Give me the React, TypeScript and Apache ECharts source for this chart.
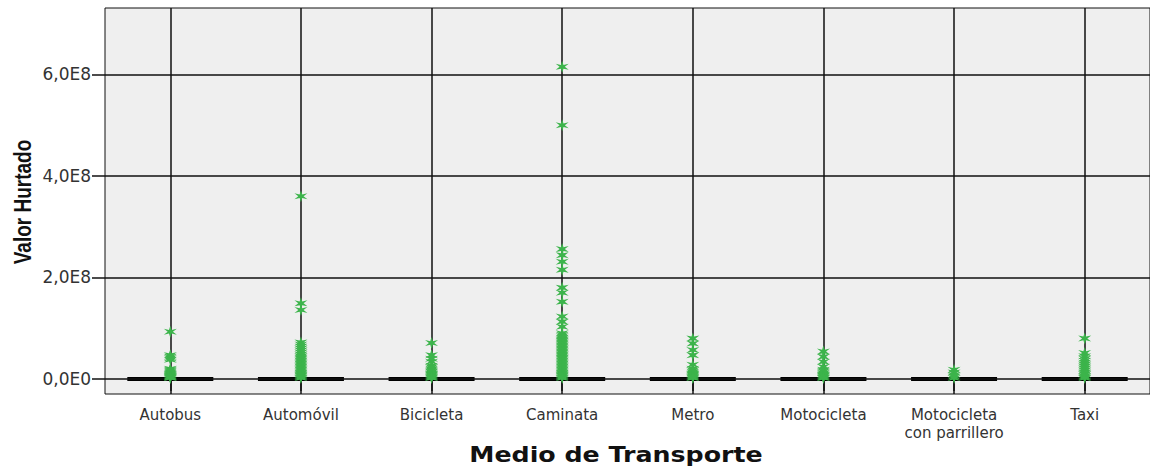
import React, { useEffect, useRef } from "react";
import * as echarts from "echarts";

const categories = [
  "Autobus",
  "Automóvil",
  "Bicicleta",
  "Caminata",
  "Metro",
  "Motocicleta",
  "Motocicleta\ncon parrillero",
  "Taxi",
];

// box summaries [min, Q1, median, Q3, max] — all collapsed at 0
const boxAutobus = [0, 0, 0, 0, 0];
const boxAutomovil = [0, 0, 0, 0, 0];
const boxBicicleta = [0, 0, 0, 0, 0];
const boxCaminata = [0, 0, 0, 0, 0];
const boxMetro = [0, 0, 0, 0, 0];
const boxMotocicleta = [0, 0, 0, 0, 0];
const boxMotoParrillero = [0, 0, 0, 0, 0];
const boxTaxi = [0, 0, 0, 0, 0];

// extreme values (asterisks)
const outAutobus = [93e6, 47e6, 44e6, 41e6, 38e6, 20e6, 18e6, 16e6, 14e6, 12e6, 10e6, 8e6, 6e6, 5e6, 4e6, 3e6, 2e6];
const outAutomovil = [360e6, 149e6, 136e6, 72e6, 68e6, 64e6, 60e6, 56e6, 52e6, 48e6, 45e6, 42e6, 39e6, 36e6, 33e6, 30e6, 27e6, 24e6, 21e6, 18e6, 15e6, 12e6, 10e6, 8e6, 6e6, 4e6, 2e6];
const outBicicleta = [71e6, 47e6, 40e6, 34e6, 26e6, 23e6, 20e6, 17e6, 14e6, 11e6, 9e6, 7e6, 5e6, 3e6, 2e6];
const outCaminata = [615e6, 500e6, 256e6, 244e6, 231e6, 215e6, 180e6, 170e6, 152e6, 123e6, 113e6, 103e6, 90e6, 87e6, 84e6, 81e6, 78e6, 75e6, 72e6, 69e6, 66e6, 63e6, 60e6, 57e6, 54e6, 51e6, 48e6, 45e6, 42e6, 39e6, 36e6, 33e6, 30e6, 27e6, 24e6, 21e6, 18e6, 15e6, 12e6, 10e6, 8e6, 6e6, 4e6, 2e6];
const outMetro = [80e6, 70e6, 57e6, 47e6, 28e6, 20e6, 17e6, 14e6, 11e6, 9e6, 7e6, 5e6, 3e6, 2e6];
const outMotocicleta = [54e6, 44e6, 34e6, 24e6, 18e6, 15e6, 12e6, 9e6, 7e6, 5e6, 3e6, 2e6];
const outMotoParrillero = [18e6, 13e6, 8e6, 5e6, 2e6];
const outTaxi = [80e6, 51e6, 45e6, 40e6, 36e6, 32e6, 28e6, 24e6, 20e6, 16e6, 12e6, 9e6, 6e6, 4e6, 2e6];

const yTicks = [0, 2e8, 4e8, 6e8];
const yTickLabels = ["0,0E0", "2,0E8", "4,0E8", "6,0E8"];
const Y_MIN = -2.96e7;
const Y_MAX = 7.31e8;

const ASTERISK =
  "path://M10 0 L11.75 6.97 L18.66 5 L13.5 10 L18.66 15 L11.75 13.03 L10 20 L8.25 13.03 L1.34 15 L6.5 10 L1.34 5 L8.25 6.97 Z";

export default function App() {
  const ref = useRef<HTMLDivElement>(null);
  useEffect(() => {
    document.body.style.margin = "0";
    const chart = echarts.init(ref.current!, null, { renderer: "svg" });
    const boxes = [boxAutobus, boxAutomovil, boxBicicleta, boxCaminata, boxMetro, boxMotocicleta, boxMotoParrillero, boxTaxi];
    const outs = [outAutobus, outAutomovil, outBicicleta, outCaminata, outMetro, outMotocicleta, outMotoParrillero, outTaxi];
    const scatterData: [number, number][] = [];
    outs.forEach((arr, i) => arr.forEach((v) => scatterData.push([i, v])));

    chart.setOption({
      animation: false,
      backgroundColor: "#ffffff",
      grid: {
        left: 105,
        top: 8,
        right: -5,
        bottom: 74,
        show: true,
        backgroundColor: "#efefef",
        borderColor: "#111",
        borderWidth: 1,
      },
      xAxis: {
        type: "category",
        data: categories,
        boundaryGap: true,
        axisLine: { show: false },
        axisTick: { show: true, alignWithLabel: true, length: 12, lineStyle: { color: "#111", width: 1.5 } },
        splitLine: { show: false },
        axisLabel: {
          color: "#333",
          fontFamily: "DejaVu Sans",
          fontSize: 15,
          margin: 12,
          lineHeight: 18,
          interval: 0,
        },
      },
      yAxis: {
        type: "value",
        min: Y_MIN,
        max: Y_MAX,
        axisLine: { show: false },
        splitLine: { show: false },
        axisTick: { show: true, customValues: yTicks, length: 13, lineStyle: { color: "#111", width: 1.5 } },
        axisLabel: {
          customValues: yTicks,
          color: "#333",
          fontFamily: "DejaVu Sans",
          fontSize: 17,
          margin: 14,
          formatter: (v: number) => {
            const i = yTicks.indexOf(v);
            return i >= 0 ? yTickLabels[i] : "";
          },
        },
      },
      graphic: [
        {
          type: "text",
          x: 23,
          y: 202,
          rotation: Math.PI / 2,
          scaleY: 1.25,
          style: {
            text: "Valor Hurtado",
            fontFamily: "Liberation Sans",
            fontWeight: "bold",
            fontSize: 19,
            fill: "#111",
            align: "center",
            verticalAlign: "middle",
          },
        },
        {
          type: "text",
          x: 616,
          y: 455,
          scaleX: 1.15,
          style: {
            text: "Medio de Transporte",
            fontFamily: "DejaVu Sans",
            fontWeight: "bold",
            fontSize: 22,
            fill: "#111",
            align: "center",
            verticalAlign: "middle",
          },
        },
      ],
      series: [
        {
          type: "line",
          data: [],
          z: 2,
          markLine: {
            silent: true,
            symbol: "none",
            label: { show: false },
            lineStyle: { color: "#111", width: 1.5, type: "solid" },
            data: [
              ...yTicks.map((v) => ({ yAxis: v })),
              ...categories.map((c) => ({ xAxis: c })),
            ],
          },
        },
        {
          type: "boxplot",
          data: boxes,
          z: 3,
          boxWidth: [86, 86],
          itemStyle: { color: "#000", borderColor: "#000", borderWidth: 4 },
        },
        {
          type: "scatter",
          data: scatterData,
          z: 5,
          symbol: ASTERISK,
          symbolSize: [13, 12],
          itemStyle: { color: "#3cb44b", opacity: 1 },
        },
      ],
    });
    return () => chart.dispose();
  }, []);
  return <div ref={ref} style={{ width: 1150, height: 468 }} />;
}
